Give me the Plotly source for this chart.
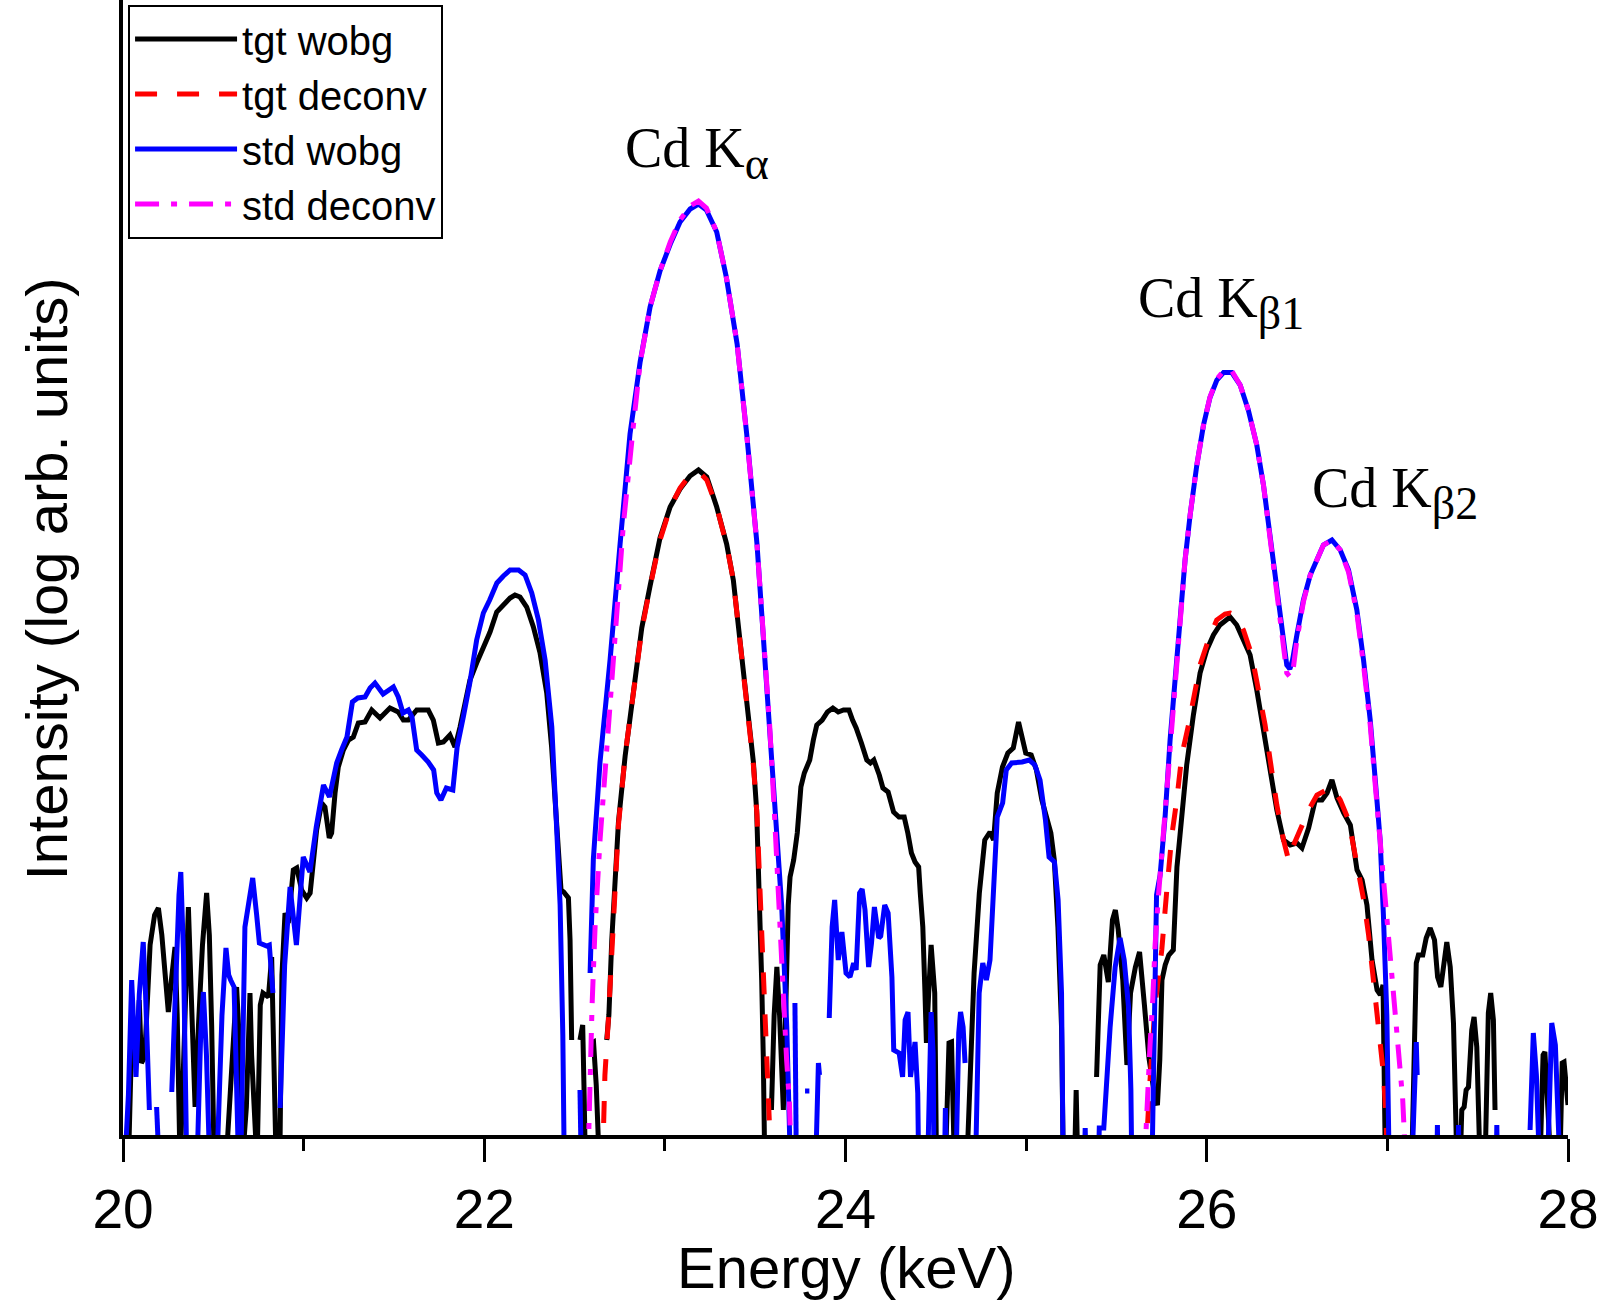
import plotly.graph_objects as go

# Energy (keV), log-intensity (arb. units).  None = break in the curve (log of non-positive value)
tgt_wobg = [
    (20.030, -0.3), (20.052, 1.25), (20.066, 0.72), (20.078, 0.90), (20.090, 1.35), (20.102, 0.72),
    (20.120, 0.78), (20.150, 1.90), (20.175, 2.20), (20.196, 2.27), (20.215, 2.00), (20.240, 1.40),
    (20.251, 1.23), (20.268, 1.55), (20.288, 1.88), (20.300, 1.20), (20.316, -0.3), (20.335, 0.70),
    (20.350, 1.80), (20.362, 2.28), (20.378, 1.40), (20.399, 0.28), (20.418, 1.10), (20.440, 1.90),
    (20.463, 2.42), (20.478, 2.00), (20.491, 1.08), (20.505, -0.3), (20.570, -0.3), (20.600, 0.72),
    (20.615, 1.20), (20.629, 1.48), (20.645, 0.90), (20.660, -0.3), (20.683, 0.28), (20.695, 1.10),
    (20.703, 1.42), (20.712, 0.80), (20.728, 0.10), (20.742, -0.3), (20.760, 1.30), (20.775, 1.42),
    (20.790, 1.40), (20.805, 1.38), (20.823, 1.78), (20.835, 1.00), (20.848, -0.3), (20.868, -0.3),
    (20.880, 1.60), (20.897, 2.22), (20.915, 2.12), (20.943, 2.65), (20.962, 2.67), (20.989, 2.45),
    (21.017, 2.37), (21.036, 2.42), (21.054, 2.78), (21.072, 3.05), (21.100, 3.32), (21.118, 3.28),
    (21.142, 2.97), (21.155, 3.02), (21.174, 3.42), (21.192, 3.68), (21.220, 3.85), (21.248, 3.95),
    (21.275, 3.98), (21.303, 4.12), (21.340, 4.13), (21.377, 4.25), (21.423, 4.17), (21.478, 4.27),
    (21.524, 4.23), (21.552, 4.15), (21.580, 4.15), (21.626, 4.25), (21.690, 4.25), (21.718, 4.15),
    (21.746, 3.92), (21.774, 3.93), (21.810, 4.00), (21.838, 3.88), (21.866, 4.08), (21.894, 4.35),
    (21.921, 4.55), (21.958, 4.72), (21.995, 4.88), (22.032, 5.03), (22.069, 5.23), (22.106, 5.30),
    (22.143, 5.37), (22.170, 5.40), (22.198, 5.38), (22.235, 5.28), (22.272, 5.08), (22.309, 4.82),
    (22.346, 4.42), (22.373, 3.88), (22.401, 3.12), (22.425, 2.45), (22.440, 2.43), (22.466, 2.37),
    (22.475, 1.95), (22.484, 0.95), None,
    (22.530, 0.95), (22.545, 1.10), (22.552, 0.50), (22.560, -0.3), None,
    (22.595, 0.92), (22.605, 0.93), (22.620, 0.50), (22.637, -0.3), None,
    (22.678, 0.95), (22.690, 1.20), (22.706, 1.95), (22.715, 2.28), (22.743, 3.13), (22.780, 3.79),
    (22.817, 4.34), (22.872, 5.07), (22.918, 5.49), (22.973, 5.97), (23.029, 6.28), (23.084, 6.46),
    (23.139, 6.59), (23.186, 6.65), (23.232, 6.58), (23.287, 6.28), (23.342, 5.91), (23.379, 5.55),
    (23.416, 4.94), (23.453, 4.34), (23.490, 3.73), (23.508, 3.25), (23.527, 2.28), (23.536, 1.55),
    (23.545, 0.76), (23.553, -0.3), None,
    (23.590, 0.25), (23.605, 1.20), (23.620, 1.68), (23.635, 1.20), (23.656, 0.25), (23.668, 1.20),
    (23.683, 2.30), (23.693, 2.58), (23.713, 2.75), (23.733, 3.02), (23.753, 3.48), (23.772, 3.62),
    (23.802, 3.75), (23.822, 3.95), (23.841, 4.10), (23.871, 4.15), (23.900, 4.23), (23.930, 4.27),
    (23.960, 4.23), (23.989, 4.25), (24.019, 4.25), (24.039, 4.15), (24.059, 4.07), (24.088, 3.92),
    (24.118, 3.75), (24.138, 3.72), (24.157, 3.75), (24.187, 3.60), (24.207, 3.47), (24.236, 3.43),
    (24.266, 3.23), (24.296, 3.18), (24.325, 3.18), (24.345, 3.02), (24.365, 2.82), (24.385, 2.73),
    (24.405, 2.68), (24.414, 2.42), (24.428, 2.08), (24.440, 1.42), (24.448, 0.92), (24.460, 1.40),
    (24.474, 1.90), (24.494, 1.42), (24.504, -0.3), (24.553, -0.3), (24.573, 0.92), (24.587, 0.93),
    (24.603, -0.3), (24.672, -0.3), (24.712, 1.62), (24.741, 2.42), (24.771, 2.95), (24.800, 3.03),
    (24.820, 2.95), (24.840, 3.42), (24.869, 3.68), (24.899, 3.82), (24.929, 3.87), (24.958, 4.13),
    (24.978, 3.95), (24.998, 3.82), (25.028, 3.80), (25.057, 3.65), (25.087, 3.35), (25.117, 3.12),
    (25.137, 3.02), (25.156, 2.75), (25.176, 2.08), (25.196, 1.08), (25.206, -0.3), (25.268, -0.3),
    (25.277, 0.45), (25.286, -0.3), None,
    (25.390, 0.58), (25.410, 1.70), (25.430, 1.80), (25.455, 1.53), (25.478, 2.15), (25.494, 2.25),
    (25.510, 2.05), (25.535, 1.55), (25.558, 0.70), (25.578, 1.42), (25.605, 1.68), (25.628, 1.83),
    (25.655, 1.30), (25.680, 0.77), (25.715, 0.35), (25.727, 0.30), (25.740, 0.75), (25.752, 1.55),
    (25.770, 1.70), (25.790, 1.80), (25.815, 1.85), (25.835, 2.68), (25.852, 3.00), (25.870, 3.40),
    (25.889, 3.70), (25.926, 4.20), (25.963, 4.62), (26.000, 4.85), (26.037, 5.00), (26.073, 5.10),
    (26.110, 5.16), (26.129, 5.18), (26.166, 5.10), (26.203, 4.95), (26.240, 4.80), (26.277, 4.45),
    (26.314, 4.05), (26.351, 3.70), (26.388, 3.25), (26.425, 2.95), (26.462, 2.90), (26.499, 2.92),
    (26.527, 2.87), (26.564, 3.07), (26.601, 3.35), (26.638, 3.35), (26.666, 3.42), (26.693, 3.55),
    (26.721, 3.37), (26.758, 3.22), (26.795, 3.10), (26.832, 2.65), (26.860, 2.55), (26.887, 2.30),
    (26.915, 1.75), (26.943, 1.45), (26.961, 1.40), (26.976, 1.50), (26.989, -0.3), (27.135, -0.3),
    (27.148, 0.88), (27.160, 1.72), (27.172, 1.80), (27.196, 1.80), (27.215, 1.97), (27.237, 2.07),
    (27.261, 1.95), (27.278, 1.58), (27.296, 1.48), (27.311, 1.68), (27.329, 1.93), (27.348, 1.68),
    (27.366, 1.12), (27.385, -0.3), (27.403, -0.3), (27.412, 0.25), (27.425, 0.28), (27.436, 0.45),
    (27.449, 0.48), (27.467, 1.05), (27.480, 1.18), (27.495, 0.88), (27.513, -0.3), (27.541, -0.3),
    (27.559, 1.22), (27.572, 1.42), (27.587, 1.15), (27.596, 0.25), None,
    (27.845, -0.3), (27.862, 0.80), (27.872, 0.83), (27.885, 0.40), (27.895, 0.28), (27.905, -0.3),
    (27.955, -0.3), (27.968, 0.72), (27.978, 0.73), (27.990, 0.50), (28.000, 0.30),
]

tgt_deconv = [
    (22.655, -0.3), (22.668, 0.60), (22.687, 1.15), (22.706, 1.90), (22.724, 2.60), (22.743, 3.10),
    (22.780, 3.80), (22.817, 4.34), (22.872, 5.05), (22.918, 5.48), (22.973, 5.95), (23.029, 6.27),
    (23.084, 6.47), (23.130, 6.58), (23.165, 6.62), (23.200, 6.61), (23.232, 6.55), (23.287, 6.28),
    (23.342, 5.90), (23.379, 5.55), (23.416, 4.95), (23.453, 4.33), (23.490, 3.70), (23.510, 3.20),
    (23.527, 2.40), (23.546, 1.45), (23.565, 0.70), (23.588, -0.3), None,
    (25.660, -0.3), (25.672, 0.15), (25.686, 0.55), (25.714, 1.30), (25.751, 1.85), (25.779, 2.45),
    (25.807, 3.00), (25.834, 3.35), (25.862, 3.80), (25.899, 4.10), (25.936, 4.45), (25.963, 4.70),
    (26.009, 4.95), (26.055, 5.15), (26.101, 5.21), (26.130, 5.22), (26.157, 5.20), (26.203, 5.05),
    (26.249, 4.80), (26.286, 4.45), (26.323, 4.10), (26.351, 3.75), (26.388, 3.30), (26.425, 2.95),
    (26.453, 2.75), (26.481, 2.90), (26.518, 3.05), (26.564, 3.25), (26.610, 3.40), (26.656, 3.45),
    (26.693, 3.48), (26.739, 3.35), (26.785, 3.15), (26.832, 2.70), (26.869, 2.35), (26.896, 2.00),
    (26.924, 1.50), (26.952, 1.05), (26.979, 0.60), (26.993, 0.15), (27.000, -0.3),
]

std_wobg = [
    (20.010, -0.3), (20.030, 0.40), (20.048, 1.55), (20.060, 1.00), (20.072, 0.58), (20.090, 1.40),
    (20.112, 1.93), (20.125, 1.40), (20.146, 0.25), None,
    (20.186, 0.28), (20.200, -0.3), None,
    (20.270, 0.43), (20.290, 1.50), (20.310, 2.40), (20.320, 2.63), (20.335, 1.80), (20.353, -0.3),
    (20.410, -0.3), (20.430, 1.00), (20.445, 1.43), (20.462, 0.80), (20.480, -0.3), (20.520, -0.3),
    (20.548, 1.20), (20.570, 1.87), (20.585, 1.60), (20.596, 1.55), (20.615, 1.48), (20.640, -0.3),
    (20.652, -0.3), (20.675, 2.08), (20.718, 2.57), (20.740, 2.20), (20.755, 1.92), (20.796, 1.89),
    (20.810, 1.90), (20.830, 1.42), None,
    (20.870, 0.27), (20.895, 1.70), (20.925, 2.48), (20.960, 1.90), (20.998, 2.78), (21.035, 2.63),
    (21.070, 3.08), (21.110, 3.50), (21.143, 3.38), (21.183, 3.72), (21.210, 3.85), (21.240, 3.98),
    (21.270, 4.33), (21.300, 4.37), (21.340, 4.38), (21.368, 4.47), (21.395, 4.52), (21.440, 4.41),
    (21.497, 4.48), (21.524, 4.38), (21.550, 4.22), (21.580, 4.25), (21.600, 4.18), (21.626, 3.85),
    (21.654, 3.80), (21.690, 3.73), (21.720, 3.65), (21.737, 3.42), (21.760, 3.35), (21.790, 3.47),
    (21.826, 3.45), (21.850, 3.88), (21.884, 4.18), (21.920, 4.52), (21.958, 4.95), (21.995, 5.22),
    (22.030, 5.35), (22.070, 5.52), (22.106, 5.59), (22.143, 5.65), (22.190, 5.65), (22.226, 5.60),
    (22.263, 5.42), (22.300, 5.15), (22.337, 4.75), (22.374, 4.08), (22.400, 3.10), (22.420, 2.30),
    (22.435, 1.00), (22.443, -0.3), None,
    (22.530, 0.45), (22.537, -0.3), None,
    (22.586, 1.62), (22.604, 2.76), (22.641, 3.73), (22.697, 4.76), (22.752, 5.91), (22.807, 7.01),
    (22.863, 7.73), (22.918, 8.28), (22.973, 8.64), (23.030, 8.91), (23.084, 9.13), (23.140, 9.26),
    (23.186, 9.31), (23.230, 9.25), (23.287, 9.03), (23.340, 8.58), (23.400, 7.91), (23.453, 7.01),
    (23.510, 5.91), (23.545, 5.00), (23.580, 4.10), (23.620, 3.13), (23.647, 2.28), (23.675, 1.07),
    (23.690, 0.22), (23.695, -0.3), None,
    (23.720, 1.32), (23.728, -0.3), None,
    (23.776, 0.44), (23.800, 0.44), None,
    (23.835, -0.3), (23.850, 0.72), (23.856, 0.60), None,
    (23.910, 1.17), (23.926, 2.08), (23.940, 2.35), (23.960, 1.75), (23.980, 2.03), (24.003, 1.62),
    (24.025, 1.58), (24.045, 1.72), (24.059, 1.65), (24.078, 2.42), (24.092, 2.46), (24.108, 2.25),
    (24.128, 1.68), (24.144, 1.92), (24.160, 2.28), (24.184, 1.97), (24.195, 1.99), (24.217, 2.30),
    (24.236, 2.22), (24.257, 1.58), (24.267, 0.85), (24.297, 0.82), (24.316, 0.58), (24.330, 1.15),
    (24.346, 1.23), (24.360, 0.58), (24.385, 0.93), (24.400, 0.42), (24.405, -0.3), (24.455, -0.3),
    (24.474, 1.23), (24.485, 0.82), (24.490, -0.3), (24.548, -0.3), (24.553, 0.27), (24.558, -0.3),
    (24.612, -0.3), (24.627, 1.02), (24.637, 1.23), (24.651, 1.08), (24.662, 0.72), None,
    (24.720, -0.3), (24.740, 1.42), (24.760, 1.72), (24.780, 1.55), (24.800, 1.75), (24.820, 2.42),
    (24.840, 3.18), (24.870, 3.32), (24.890, 3.65), (24.920, 3.72), (24.978, 3.73), (25.017, 3.75),
    (25.048, 3.70), (25.077, 3.55), (25.107, 3.15), (25.127, 2.78), (25.157, 2.73), (25.177, 2.35),
    (25.196, 1.42), (25.205, -0.3), (25.322, -0.3), (25.327, 0.07), (25.332, -0.3), (25.400, -0.3),
    (25.405, 0.07), (25.430, 0.07), (25.437, 0.30), (25.465, 1.08), (25.493, 1.68), (25.520, 1.97),
    (25.543, 1.75), (25.567, 1.28), (25.580, 0.45), (25.585, -0.3), (25.697, -0.3), (25.706, 1.00),
    (25.712, 1.95), (25.722, 2.40), (25.742, 2.60), (25.770, 3.20), (25.797, 3.95), (25.825, 4.55),
    (25.852, 5.15), (25.880, 5.75), (25.908, 6.20), (25.945, 6.70), (25.982, 7.10), (26.018, 7.375),
    (26.056, 7.55), (26.093, 7.625), (26.139, 7.625), (26.185, 7.50), (26.230, 7.25), (26.277, 6.90),
    (26.314, 6.50), (26.350, 6.00), (26.388, 5.45), (26.416, 5.05), (26.443, 4.70), (26.460, 4.66),
    (26.475, 4.75), (26.499, 5.00), (26.535, 5.35), (26.573, 5.60), (26.610, 5.75), (26.646, 5.90),
    (26.693, 5.95), (26.739, 5.85), (26.785, 5.65), (26.831, 5.25), (26.868, 4.75), (26.905, 4.15),
    (26.933, 3.55), (26.960, 2.95), (26.978, 2.20), (26.997, 1.20), (27.010, -0.3), (27.136, -0.3),
    (27.160, 0.93), (27.165, 0.60), None,
    (27.274, -0.3), (27.277, 0.10), (27.280, -0.3), (27.391, -0.3), (27.394, 0.10), (27.397, -0.3),
    (27.603, -0.3), (27.606, 0.10), (27.609, -0.3), None,
    (27.790, 0.05), (27.808, 1.02), (27.825, 0.60), (27.842, -0.3), (27.887, -0.3), (27.910, 1.12),
    (27.930, 0.90), (27.955, -0.3),
]

std_deconv = [
    (22.574, -0.3), (22.586, 0.62), (22.597, 1.30), (22.614, 2.10), (22.641, 2.95), (22.678, 3.85),
    (22.724, 5.00), (22.770, 6.10), (22.826, 7.10), (22.863, 7.72), (22.918, 8.28), (22.973, 8.64),
    (23.030, 8.93), (23.084, 9.15), (23.140, 9.29), (23.186, 9.34), (23.230, 9.27), (23.287, 9.03),
    (23.340, 8.58), (23.400, 7.91), (23.453, 7.00), (23.510, 5.90), (23.545, 5.00), (23.580, 4.10),
    (23.607, 3.20), (23.628, 2.40), (23.646, 1.85), (23.660, 1.32), (23.674, 0.75), (23.689, 0.35),
    (23.700, -0.3), None,
    (25.655, -0.3), (25.668, 0.30), (25.686, 0.90), (25.701, 1.35), (25.714, 1.90), (25.733, 2.40),
    (25.751, 2.80), (25.770, 3.20), (25.797, 3.95), (25.825, 4.55), (25.852, 5.15), (25.880, 5.75),
    (25.908, 6.20), (25.945, 6.70), (25.982, 7.10), (26.018, 7.38), (26.056, 7.56), (26.093, 7.64),
    (26.139, 7.64), (26.185, 7.50), (26.230, 7.25), (26.277, 6.90), (26.314, 6.50), (26.350, 6.00),
    (26.388, 5.42), (26.416, 5.00), (26.443, 4.62), (26.462, 4.58), (26.480, 4.68), (26.499, 4.95),
    (26.535, 5.33), (26.573, 5.60), (26.610, 5.75), (26.646, 5.90), (26.693, 5.95), (26.739, 5.85),
    (26.785, 5.63), (26.831, 5.22), (26.868, 4.70), (26.905, 4.10), (26.933, 3.50), (26.960, 2.95),
    (26.985, 2.35), (27.020, 1.60), (27.045, 1.10), (27.065, 0.70), (27.085, 0.35), (27.102, -0.3),
]

series_names = ["tgt wobg", "tgt deconv", "std wobg", "std deconv"]
series_colors = ["#000000", "#ff0000", "#0000ff", "#ff00ff"]
series_dash = ["solid", "22px,20px", "solid", "24px,12px,6px,12px"]

SUB = '<sub><span style="font-size:46px">{}</span></sub>'
peak_labels = ["Cd K" + SUB.format("α"), "Cd K" + SUB.format("β1"), "Cd K" + SUB.format("β2")]
peak_label_x = [23.18, 26.08, 27.04]
peak_label_y = [9.82, 8.32, 6.42]

x_tick_vals = [20, 22, 24, 26, 28]
x_title = "Energy (keV)"
y_title = "Intensity (log arb. units)"


def split(points):
    xs, ys = [], []
    for p in points:
        if p is None:
            xs.append(None)
            ys.append(None)
        else:
            xs.append(p[0])
            ys.append(p[1])
    return xs, ys


fig = go.Figure()
for pts, name, col, dash in zip([tgt_wobg, tgt_deconv, std_wobg, std_deconv],
                                series_names, series_colors, series_dash):
    xs, ys = split(pts)
    fig.add_trace(go.Scatter(x=xs, y=ys, mode="lines", name=name,
                             line=dict(color=col, width=5, dash=dash),
                             connectgaps=False))

for txt, xx, yy in zip(peak_labels, peak_label_x, peak_label_y):
    fig.add_annotation(x=xx, y=yy, xref="x", yref="y", text=txt, showarrow=False,
                       font=dict(family="Liberation Serif, Times New Roman, serif", size=56, color="black"),
                       xanchor="center", yanchor="middle")

# axis titles placed explicitly to match the reference position
fig.add_annotation(x=-0.053, y=0.49, xref="paper", yref="paper",
                   text=y_title, textangle=-90, showarrow=False,
                   font=dict(family="Liberation Sans, Arial, sans-serif", size=58, color="black"),
                   xanchor="center", yanchor="middle")
fig.add_annotation(x=0.5, y=-0.117, xref="paper", yref="paper",
                   text=x_title, showarrow=False,
                   font=dict(family="Liberation Sans, Arial, sans-serif", size=58, color="black"),
                   xanchor="center", yanchor="middle")

fig.update_layout(
    width=1607, height=1309,
    margin=dict(l=123, r=39, t=0, b=174),
    paper_bgcolor="white", plot_bgcolor="white",
    font=dict(family="Liberation Sans, Arial, sans-serif", color="black"),
    showlegend=True,
    legend=dict(x=0.0035, y=0.996, xanchor="left", yanchor="top",
                bgcolor="white", bordercolor="black", borderwidth=2,
                font=dict(size=40, color="black"), itemwidth=102,
                tracegroupgap=0),
    xaxis=dict(range=[20, 28], showgrid=False, zeroline=False,
               showline=True, linecolor="black", linewidth=4,
               tickmode="array", tickvals=x_tick_vals,
               ticks="outside", ticklen=23, tickwidth=3, tickcolor="black",
               tickfont=dict(size=55, color="black"),
               minor=dict(dtick=1, tick0=20, ticks="outside", ticklen=12, tickwidth=3,
                          tickcolor="black", showgrid=False)),
    yaxis=dict(range=[0, 11.35], showgrid=False, zeroline=False,
               showline=True, linecolor="black", linewidth=4,
               showticklabels=False, ticks=""),
)

fig.write_html("out.html")
